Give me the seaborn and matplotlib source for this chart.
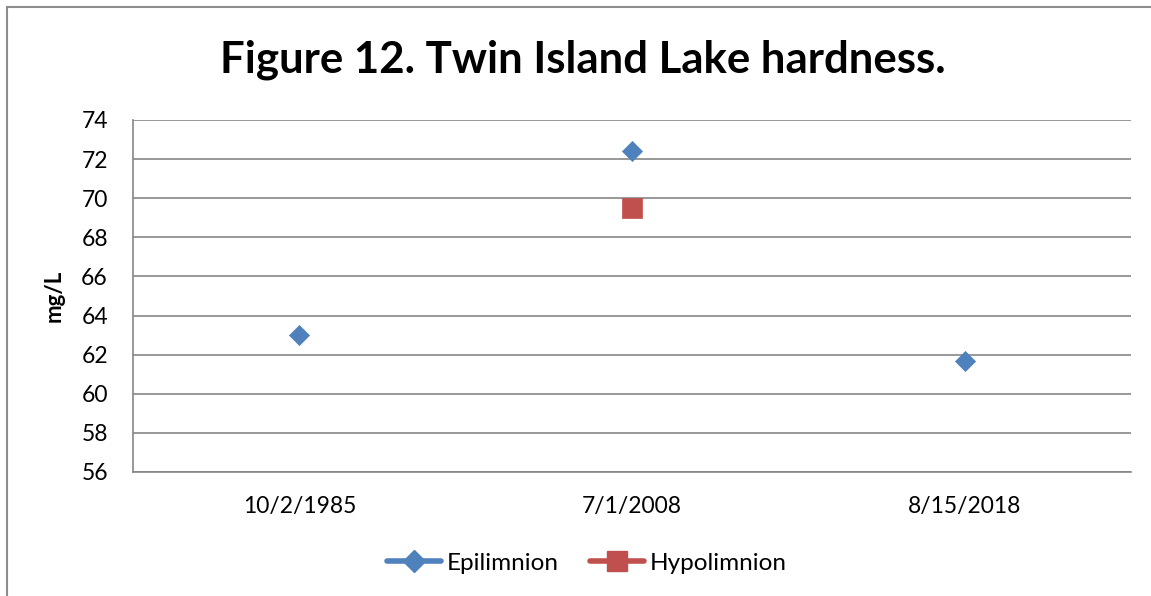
import matplotlib
matplotlib.use("Agg")
import matplotlib.pyplot as plt
from matplotlib.lines import Line2D
from matplotlib.patches import Rectangle
import numpy as np
import pandas as pd
import seaborn as sns

# Sample dates and hardness readings (mg/L)
dates = ["10/2/1985", "7/1/2008", "8/15/2018"]
epilimnion = [63.0, 72.4, 61.7]
hypolimnion = [np.nan, 69.5, np.nan]
series_names = ["Epilimnion", "Hypolimnion"]
y_ticks = [56, 58, 60, 62, 64, 66, 68, 70, 72, 74]

BLUE = "#4F81BD"
RED = "#C0504D"
GRID = "#868686"

df = pd.DataFrame({
    "date": dates * 2,
    "value": epilimnion + hypolimnion,
    "layer": [series_names[0]] * 3 + [series_names[1]] * 3,
})
df["pos"] = df["date"].map({d: i for i, d in enumerate(dates)})
df = df.dropna()

sns.set_theme(style="white")
plt.rcParams["font.family"] = ["Lato", "DejaVu Sans"]
plt.rcParams["text.color"] = "black"
plt.rcParams["axes.labelcolor"] = "black"

fig = plt.figure(figsize=(11.51, 5.96), dpi=100)
ax = fig.add_axes([133 / 1151, 1 - 472 / 596, (1131 - 133) / 1151, (472 - 120) / 596])

# Outer chart frame
fig.patches.append(Rectangle((7 / 1151, -0.1), 1.2, 1 - 7 / 596 + 0.1,
                             transform=fig.transFigure, fill=False,
                             edgecolor="#8C8C8C", linewidth=1.5))

for name, marker, size, color in [(series_names[0], "D", 105, BLUE),
                                  (series_names[1], "s", 225, RED)]:
    sub = df[df["layer"] == name]
    sns.scatterplot(data=sub, x="pos", y="value", marker=marker, s=size,
                    color=color, edgecolor=color, linewidth=0.5, ax=ax,
                    legend=False, zorder=3)

ax.set_xlim(-0.5, 2.5)
ax.set_ylim(56, 74)
ax.set_yticks(y_ticks)
ax.set_yticklabels([str(t) for t in y_ticks])
ax.set_xticks(range(len(dates)))
ax.set_xticklabels(dates)
ax.grid(axis="y", color=GRID, linewidth=1.2)
ax.grid(axis="x", visible=False)
ax.tick_params(axis="both", length=0, labelsize=16.5, colors="black")
ax.tick_params(axis="y", pad=18)
ax.tick_params(axis="x", pad=17)
for side in ["top", "right"]:
    ax.spines[side].set_visible(False)
for side in ["left", "bottom"]:
    ax.spines[side].set_color(GRID)
    ax.spines[side].set_linewidth(1.2)

ax.set_xlabel("")
ax.set_ylabel("mg/L", fontsize=16, fontweight="bold")
ax.yaxis.set_label_coords((65 - 133) / 998, 0.5)

fig.text(583 / 1151, 1 - 60 / 596, "Figure 12. Twin Island Lake hardness.",
         ha="center", va="center", fontsize=31.5, fontweight="bold", color="black")

handles = [
    Line2D([], [], color=BLUE, marker="D", markersize=11, linewidth=4),
    Line2D([], [], color=RED, marker="s", markersize=14, linewidth=4),
]
fig.legend(handles, series_names, loc="center", bbox_to_anchor=(587 / 1151, 1 - 563 / 596),
           ncol=2, frameon=False, fontsize=17.5, handlelength=2.2, handletextpad=0.25,
           columnspacing=1.3)

fig.savefig("out.png", dpi=100)
